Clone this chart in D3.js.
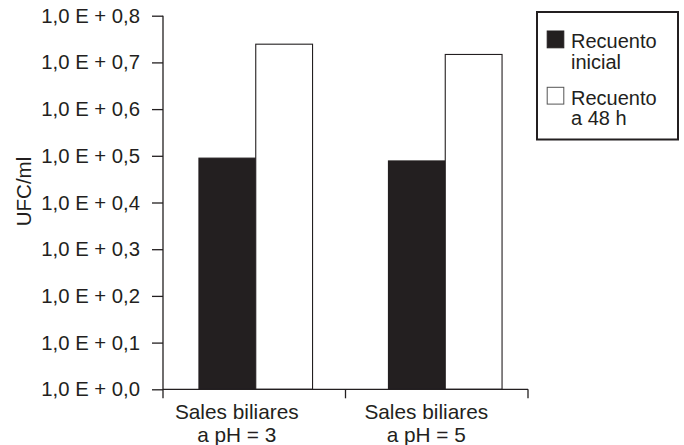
<!DOCTYPE html>
<html>
<head>
<meta charset="utf-8">
<script src="https://cdn.jsdelivr.net/npm/d3@7"></script>
<style>
  html, body { margin: 0; padding: 0; background: #fff; }
  svg { display: block; }
  text { font-family: "Liberation Sans", Arial, Helvetica, sans-serif; fill: #231f20; }
</style>
</head>
<body>
<svg id="chart" width="684" height="445"></svg>
<script>
const categories = ["Sales biliares\na pH = 3", "Sales biliares\na pH = 5"];
const seriesNames = ["Recuento\ninicial", "Recuento\na 48 h"];
const recuentoInicial = [0.495, 0.489];
const recuento48h = [0.739, 0.717];
const yTicks = [0, 0.1, 0.2, 0.3, 0.4, 0.5, 0.6, 0.7, 0.8];
const yTickLabels = ["1,0 E + 0,0", "1,0 E + 0,1", "1,0 E + 0,2", "1,0 E + 0,3", "1,0 E + 0,4", "1,0 E + 0,5", "1,0 E + 0,6", "1,0 E + 0,7", "1,0 E + 0,8"];
const yAxisTitle = "UFC/ml";

const ink = "#231f20";
const svg = d3.select("#chart");

const plot = { left: 163, right: 528, top: 15.7, bottom: 389.3 };

const y = d3.scaleLinear().domain([0, 0.8]).range([plot.bottom, plot.top]);
const x = d3.scaleBand().domain(categories).range([161, 540]).padding(0);
const barW = 56.8;
const series = [
  { name: seriesNames[0], values: recuentoInicial, fill: ink, offset: -1 },
  { name: seriesNames[1], values: recuento48h, fill: "#fff", offset: 0 }
];

// bars
series.forEach(s => {
  svg.append("g").selectAll("rect").data(categories).join("rect")
    .attr("x", c => x(c) + x.bandwidth() / 2 + s.offset * barW)
    .attr("y", (c, i) => y(s.values[i]))
    .attr("width", barW)
    .attr("height", (c, i) => y(0) - y(s.values[i]))
    .attr("fill", s.fill)
    .attr("stroke", ink)
    .attr("stroke-width", 1.1);
});

// y axis
const yAxis = svg.append("g")
  .attr("transform", `translate(${plot.left},0)`)
  .call(d3.axisLeft(y).tickValues(yTicks)
    .tickFormat((d, i) => yTickLabels[i])
    .tickSize(11).tickSizeOuter(0).tickPadding(12));
yAxis.select(".domain").remove();
yAxis.selectAll(".tick line").attr("stroke", ink).attr("stroke-width", 1.3);
yAxis.selectAll(".tick text").attr("font-size", 20.3).attr("fill", ink)
  .style("font-family", '"Liberation Sans", Arial, sans-serif');

// y axis line (extends below x axis as a tick)
svg.append("line")
  .attr("x1", plot.left).attr("x2", plot.left)
  .attr("y1", plot.top).attr("y2", plot.bottom + 9)
  .attr("stroke", ink).attr("stroke-width", 1.3);

// x axis line and ticks
svg.append("line")
  .attr("x1", plot.left).attr("x2", plot.right)
  .attr("y1", plot.bottom).attr("y2", plot.bottom)
  .attr("stroke", ink).attr("stroke-width", 1.3);
const xTickPos = [plot.left + (plot.right - plot.left) / 2, plot.right];
svg.append("g").selectAll("line").data(xTickPos).join("line")
  .attr("x1", d => d).attr("x2", d => d)
  .attr("y1", plot.bottom).attr("y2", plot.bottom + 9)
  .attr("stroke", ink).attr("stroke-width", 1.3);

// category labels
const catG = svg.append("g").selectAll("text").data(categories).join("text")
  .attr("x", c => x(c) + x.bandwidth() / 2 - 19)
  .attr("y", 419.3)
  .attr("text-anchor", "middle")
  .attr("font-size", 20.8);
catG.each(function (c) {
  const t = d3.select(this);
  c.split("\n").forEach((line, i) => {
    t.append("tspan").attr("x", t.attr("x")).attr("y", 419.3 + i * 22.4).text(line);
  });
});

// y axis title
svg.append("text")
  .attr("transform", "translate(30.5,191.5) rotate(-90)")
  .attr("text-anchor", "middle")
  .attr("font-size", 20.5)
  .text(yAxisTitle);

// legend
const lg = svg.append("g");
lg.append("rect")
  .attr("x", 537).attr("y", 12).attr("width", 141).attr("height", 127.5)
  .attr("fill", "#fff").attr("stroke", ink).attr("stroke-width", 2);
series.forEach((s, i) => {
  const top = 31 + i * 56.3;
  lg.append("rect")
    .attr("x", 547.2).attr("y", top).attr("width", 16.6).attr("height", 16.8)
    .attr("fill", s.fill).attr("stroke", s.fill === "#fff" ? "#555" : ink).attr("stroke-width", 1);
  const t = lg.append("text").attr("font-size", 20);
  s.name.split("\n").forEach((line, j) => {
    t.append("tspan").attr("x", 571).attr("y", top + 17.3 + j * 20.2).text(line);
  });
});
</script>
</body>
</html>
